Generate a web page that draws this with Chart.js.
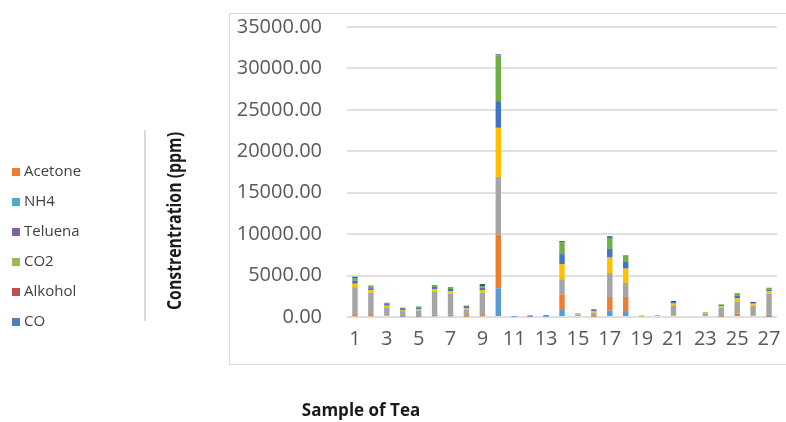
<!DOCTYPE html>
<html>
<head>
<meta charset="utf-8">
<script src="https://cdn.jsdelivr.net/npm/chart.js@4/dist/chart.umd.min.js"></script>
<style>
  html, body { margin: 0; padding: 0; background: #ffffff; }
  #wrap { position: relative; width: 786px; height: 422px; }
  canvas { display: block; }
</style>
</head>
<body>
<div id="wrap"><canvas id="c" width="786" height="422"></canvas></div>
<script>
// ---- data ----
const categories = ['1','2','3','4','5','6','7','8','9','10','11','12','13','14','15','16','17','18','19','20','21','22','23','24','25','26','27'];
const yTicks = [0, 5000, 10000, 15000, 20000, 25000, 30000, 35000];

const seriesNames = ['CO', 'Alkohol', 'CO2', 'Teluena', 'NH4', 'Acetone', 'Other'];
const series1 = [100, 100, 0, 40, 40, 100, 100, 0, 100, 3470, 40, 40, 40, 850, 0, 0, 800, 730, 0, 0, 0, 0, 0, 0, 120, 0, 40];
const series2 = [240, 240, 160, 40, 40, 200, 200, 40, 240, 6450, 0, 0, 0, 1860, 0, 40, 1610, 1690, 0, 0, 160, 0, 0, 40, 280, 160, 240];
const series3 = [3270, 2580, 1000, 640, 720, 2760, 2520, 880, 2600, 6980, 40, 60, 80, 1860, 300, 480, 2900, 1690, 80, 200, 1250, 0, 420, 1120, 1400, 1180, 2540];
const series4 = [400, 320, 200, 80, 120, 320, 320, 120, 320, 5930, 0, 0, 0, 1810, 60, 200, 1860, 1730, 80, 0, 200, 0, 80, 120, 440, 200, 320];
const series5 = [360, 240, 200, 240, 200, 240, 240, 200, 280, 3220, 40, 60, 80, 1210, 0, 120, 1050, 810, 0, 0, 200, 0, 0, 160, 320, 0, 160];
const series6 = [280, 280, 160, 0, 160, 240, 240, 0, 200, 5530, 0, 0, 0, 1450, 80, 0, 1330, 810, 40, 40, 0, 0, 80, 80, 320, 120, 240];
const series7 = [200, 40, 0, 80, 0, 0, 0, 120, 240, 120, 0, 40, 40, 120, 0, 80, 200, 0, 0, 0, 120, 0, 0, 0, 0, 160, 0];

const barColors = ['#5B9BD5', '#ED7D31', '#A5A5A5', '#FFC000', '#4472C4', '#70AD47', '#255E91'];

// legend as shown in the picture (separate from the bar colours)
const legendNames = ['Acetone', 'NH4', 'Teluena', 'CO2', 'Alkohol', 'CO'];
const legendColors = ['#ED7D31', '#4BACC6', '#8064A2', '#9BBB59', '#C0504D', '#4F81BD'];

const yTitle = 'Constrentration (ppm)';
const xTitle = 'Sample of Tea';

// ---- build ----
const allSeries = [series1, series2, series3, series4, series5, series6, series7];
const datasets = allSeries.map((vals, i) => ({
  label: seriesNames[i],
  data: vals,
  backgroundColor: barColors[i],
  borderWidth: 0,
  categoryPercentage: 0.34,
  barPercentage: 1.0
}));

const decor = {
  id: 'decor',
  beforeDraw(chart) {
    const ctx = chart.ctx;
    ctx.save();
    ctx.fillStyle = '#ffffff';
    ctx.fillRect(0, 0, chart.width, chart.height);
    // chart frame
    ctx.strokeStyle = '#d9d9d9';
    ctx.lineWidth = 1;
    ctx.strokeRect(229.5, 13.5, 600, 351);
    // side line near legend
    ctx.strokeStyle = '#d9d9d9';
    ctx.lineWidth = 2;
    ctx.beginPath();
    ctx.moveTo(145, 130);
    ctx.lineTo(145, 321);
    ctx.stroke();
    ctx.restore();
  },
  afterDraw(chart) {
    const ctx = chart.ctx;
    ctx.save();
    // legend
    ctx.font = '15px "Open Sans"';
    ctx.textBaseline = 'middle';
    ctx.textAlign = 'left';
    legendNames.forEach((n, i) => {
      const y = 172 + i * 30;
      ctx.fillStyle = legendColors[i];
      ctx.fillRect(12, y - 4, 8, 8);
      ctx.fillStyle = '#404040';
      ctx.fillText(n, 24, y);
    });
    // y title
    ctx.save();
    ctx.translate(176, 221);
    ctx.rotate(-Math.PI / 2);
    ctx.font = 'bold 19px "Open Sans"';
    ctx.fillStyle = '#1a1a1a';
    ctx.textAlign = 'center';
    ctx.textBaseline = 'middle';
    ctx.fillText(yTitle, 0, 0, 178);
    ctx.restore();
    // x title
    ctx.font = 'bold 17px "Open Sans"';
    ctx.fillStyle = '#1a1a1a';
    ctx.textAlign = 'center';
    ctx.textBaseline = 'middle';
    ctx.fillText(xTitle, 361, 411, 144);
    ctx.restore();
  }
};

new Chart(document.getElementById('c'), {
  type: 'bar',
  data: { labels: categories, datasets },
  options: {
    responsive: false,
    animation: false,
    events: [],
    layout: { padding: { left: 0, right: 9, top: 27, bottom: 0 } },
    plugins: { legend: { display: false }, tooltip: { enabled: false } },
    scales: {
      x: {
        stacked: true,
        grid: { display: false, drawTicks: true, tickLength: 10, tickColor: 'rgba(0,0,0,0)' },
        border: { display: false },
        ticks: {
          autoSkip: false,
          maxRotation: 0,
          padding: 0,
          color: '#595959',
          font: { family: '"Open Sans"', size: 20 },
          callback: function (v, i) { return i % 2 === 0 ? categories[i] : ''; }
        },
        afterFit(scale) { scale.height = 105; }
      },
      y: {
        stacked: true,
        min: yTicks[0],
        max: yTicks[yTicks.length - 1],
        afterBuildTicks(scale) { scale.ticks = yTicks.map(v => ({ value: v })); },
        grid: { color: '#e0e0e0', lineWidth: 2, drawTicks: true, tickLength: 22, tickColor: 'rgba(0,0,0,0)' },
        border: { display: false },
        ticks: {
          padding: 3,
          color: '#595959',
          font: { family: '"Open Sans"', size: 20 },
          callback: v => Number(v).toFixed(2)
        },
        afterFit(scale) { scale.width = 347; }
      }
    }
  },
  plugins: [decor]
});
</script>
</body>
</html>
